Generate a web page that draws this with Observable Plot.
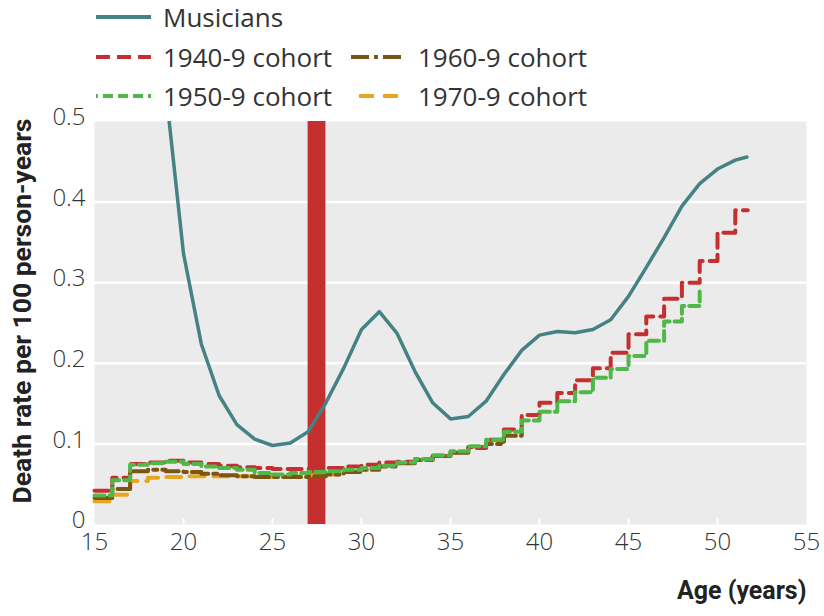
<!DOCTYPE html>
<html><head><meta charset="utf-8">
<script src="https://cdn.jsdelivr.net/npm/d3@7"></script>
<script src="https://cdn.jsdelivr.net/npm/@observablehq/plot@0.6"></script>
<style>
body{margin:0;background:#fff;}
#wrap{width:824px;height:616px;position:relative;overflow:hidden;background:#fff;}
#legend{position:relative;height:106px;font-family:"Open Sans",sans-serif;font-size:26px;color:#333;}
.item{position:absolute;display:flex;align-items:center;height:36px;white-space:nowrap;}
.item svg{margin-right:11px;display:block;}
</style></head><body><div id="wrap"><div id="legend"></div><div id="chart"></div></div>
<script>
// ---- data ----
const xTicks = [15, 20, 25, 30, 35, 40, 45, 50, 55];
const yTicks = [0, 0.1, 0.2, 0.3, 0.4, 0.5];
const gridY = [0.1, 0.2, 0.3, 0.4];
const bandStart = [27];
const bandEnd = [28];

const musAge = [19,20,21,22,23,24,25,26,27,28,29,30,31,32,33,34,35,36,37,38,39,40,41,42,43,44,45,46,47,48,49,50,51,51.65];
const musRate = [0.54,0.336,0.224,0.160,0.124,0.106,0.098,0.101,0.115,0.151,0.194,0.242,0.264,0.237,0.190,0.151,0.131,0.134,0.153,0.186,0.216,0.235,0.2395,0.238,0.242,0.254,0.283,0.319,0.356,0.395,0.423,0.441,0.452,0.456];

const c40Age = [15,16,17,18,19,20,21,22,23,24,25,26,27,28,29,30,31,32,33,34,35,36,37,38,39,40,41,42,43,44,45,46,47,48,49,50,51,51.7];
const c40Rate = [0.042,0.058,0.075,0.077,0.079,0.077,0.075,0.073,0.071,0.070,0.069,0.069,0.069,0.070,0.072,0.074,0.077,0.078,0.081,0.085,0.090,0.095,0.105,0.118,0.136,0.151,0.163,0.179,0.194,0.213,0.236,0.258,0.280,0.300,0.327,0.362,0.390,0.390];

const c50Age = [15,16,17,18,19,20,21,22,23,24,25,26,27,28,29,30,31,32,33,34,35,36,37,38,39,40,41,42,43,44,45,46,47,48,49];
const c50Rate = [0.036,0.055,0.074,0.076,0.078,0.075,0.072,0.070,0.068,0.064,0.062,0.064,0.065,0.066,0.068,0.070,0.073,0.077,0.081,0.086,0.091,0.097,0.105,0.115,0.129,0.140,0.153,0.164,0.182,0.193,0.209,0.228,0.252,0.271,0.292];

const c60Age = [15,16,17,18,19,20,21,22,23,24,25,26,27,28,29,30,31,32,33,34,35,36,37,38,39];
const c60Rate = [0.033,0.044,0.066,0.068,0.066,0.065,0.063,0.061,0.060,0.059,0.059,0.059,0.060,0.062,0.065,0.068,0.072,0.076,0.080,0.085,0.089,0.096,0.100,0.110,0.119];

const c70Age = [15,16,17,18,19,20,21,22,23,24,25,26,27,28,28.7];
const c70Rate = [0.029,0.037,0.054,0.058,0.059,0.060,0.060,0.060,0.060,0.059,0.059,0.060,0.061,0.062,0.062];

const seriesNames = ["Musicians","1940-9 cohort","1950-9 cohort","1960-9 cohort","1970-9 cohort"];
const seriesColors = ["#458284","#c4302f","#50b848","#7a5612","#e8a520"];
const seriesDash = [null,"14 7","10 5","18 5 4 5","15 9"];

const yTitle = "Death rate per 100 person-years";
const xTitle = "Age (years)";

// ---- build tables ----
const toRows = (ages, rates) => ages.map((a, i) => ({age: a, rate: rates[i]}));
const mus = toRows(musAge, musRate);
const c40 = toRows(c40Age, c40Rate);
const c50 = toRows(c50Age, c50Rate);
const c60 = toRows(c60Age, c60Rate);
const c70 = toRows(c70Age, c70Rate);
const band = bandStart.map((s, i) => ({start: s, end: bandEnd[i]}));

// ---- legend ----
const legendLayout = [
  {i:0, left:95, top:-1},
  {i:1, left:95, top:39},
  {i:3, left:350, top:39},
  {i:2, left:95, top:78},
  {i:4, left:350, top:78}
];
const legend = document.getElementById("legend");
const offsets = {0:0, 1:0, 2:8, 3:0, 4:-8};
for (const L of legendLayout) {
  const d = document.createElement("div");
  d.className = "item";
  d.style.left = L.left + "px";
  d.style.top = L.top + "px";
  const dash = seriesDash[L.i];
  const w = 57;
  d.innerHTML = `<svg width="${w}" height="10"><line x1="1" x2="${w-1}" y1="5" y2="5" stroke="${seriesColors[L.i]}" stroke-width="4"${dash ? ` stroke-dasharray="${dash}" stroke-dashoffset="${offsets[L.i]}"` : ""}/></svg><span>${seriesNames[L.i]}</span>`;
  legend.appendChild(d);
}

// ---- chart ----
const lineOpts = (i) => ({x: "age", y: "rate", curve: i === 0 ? "linear" : "step-after", stroke: seriesColors[i], strokeWidth: i === 0 ? 3.5 : 4, strokeDasharray: seriesDash[i] ?? undefined, strokeLinejoin: "round"});

const chart = Plot.plot({
  width: 824,
  height: 510,
  marginTop: 15,
  marginLeft: 94,
  marginRight: 18,
  marginBottom: 92,
  x: {domain: [15, 55]},
  y: {domain: [0, 0.5]},
  style: {fontFamily: "'Open Sans', sans-serif", fontSize: "24px", color: "#333", background: "white", overflow: "visible"},
  marks: [
    Plot.frame({fill: "#ebebeb", stroke: null}),
    Plot.ruleY(gridY, {stroke: "white", strokeWidth: 2.5}),
    Plot.ruleX(xTicks.slice(1, -1), {y1: 0, y2: 0.0075, stroke: "white", strokeWidth: 2}),
    Plot.rect(band, {x1: "start", x2: "end", y1: 0, y2: 0.5, fill: "#c3302f"}),
    Plot.line(c70, lineOpts(4)),
    Plot.line(c60, lineOpts(3)),
    Plot.line(c40, lineOpts(1)),
    Plot.line(c50, lineOpts(2)),
    Plot.line(mus, {...lineOpts(0), clip: true}),
    Plot.axisX(xTicks, {tickSize: 0, tickPadding: 8, fontWeight: 300, label: null}),
    Plot.axisY(yTicks, {tickSize: 0, tickPadding: 9, dy: -4, fontWeight: 300, label: null, tickFormat: d => d === 0 ? "0" : d.toFixed(1)}),
    Plot.text([yTitle], {frameAnchor: "left", textAnchor: "middle", dx: -72, dy: -12, rotate: -90, fontSize: 26.5, fontWeight: "bold", fontFamily: "Roboto", fill: "#222"}),
    Plot.text([xTitle], {frameAnchor: "bottom-right", textAnchor: "end", dy: 74, fontSize: 25, fontWeight: "bold", fontFamily: "Roboto", fill: "#222"})
  ]
});
document.getElementById("chart").appendChild(chart);
</script>
</body></html>
